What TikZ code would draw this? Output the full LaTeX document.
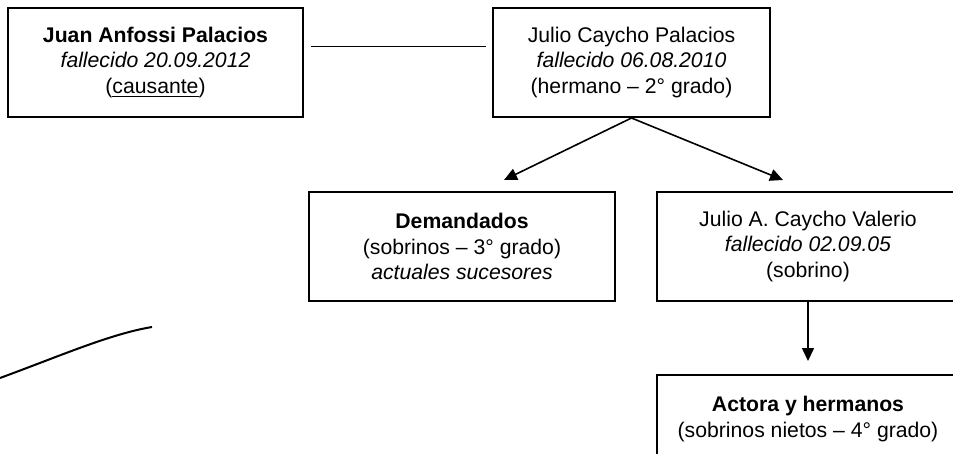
\documentclass[tikz,border=0pt]{standalone}
\usepackage{fontspec}
\setmainfont{Liberation Sans}
\usetikzlibrary{arrows.meta}

\begin{document}
\begin{tikzpicture}[x = 0.5pt, y = -0.5pt,
caja/.style = {draw, line width = 1pt, align = center, inner sep = 0pt,
	minimum height = 54.5pt, font = \fontsize{10.6}{12.8}\selectfont},
flecha/.style = {line width = 0.8pt, -{Triangle[length = 6.5pt, width = 6pt]}}
]
\useasboundingbox (0,0) rectangle (953,454);

% Causante y hermano
\node[caja, minimum width = 147.5pt] (causante) at (155.5,62.5)
	{\textbf{Juan Anfossi Palacios}\\ \textit{fallecido 20.09.2012}\\ (\underline{causante})};
\node[caja, minimum width = 138.5pt] (hermano) at (631.5,62.5)
	{Julio Caycho Palacios\\ \textit{fallecido 06.08.2010}\\ (hermano – 2° grado)};
\draw[line width = 0.8pt] ([xshift = 3.5pt, yshift = 8pt]causante.east) -- ([xshift = -3pt, yshift = 8pt]hermano.west);

% Sobrinos (3er grado)
\node[caja, minimum width = 153pt] (demandados) at (462,246.5)
	{\textbf{Demandados}\\ (sobrinos – 3° grado)\\ \textit{actuales sucesores}};
\node[caja, minimum width = 151pt] (sobrino) at (808,246.5)
	{Julio A. Caycho Valerio\\ \textit{fallecido 02.09.05}\\ (sobrino)};
\draw[flecha] (hermano.south) -- ([xshift = 21pt, yshift = 5.5pt]demandados.north);
\draw[flecha] (hermano.south) -- ([xshift = -12.5pt, yshift = 5.5pt]sobrino.north);

% Sobrinos nietos (4to grado)
\node[caja, minimum width = 151pt] (actora) at (808,429.5)
	{\textbf{Actora y hermanos}\\ (sobrinos nietos – 4° grado)\\ \mbox{}};
\draw[flecha] (sobrino.south) -- ([yshift = 6.5pt]actora.north);

% trazo suelto
\draw[line width = 1pt] (0,378) .. controls (60,356) and (110,334) .. (152,327);
\end{tikzpicture}
\end{document}
